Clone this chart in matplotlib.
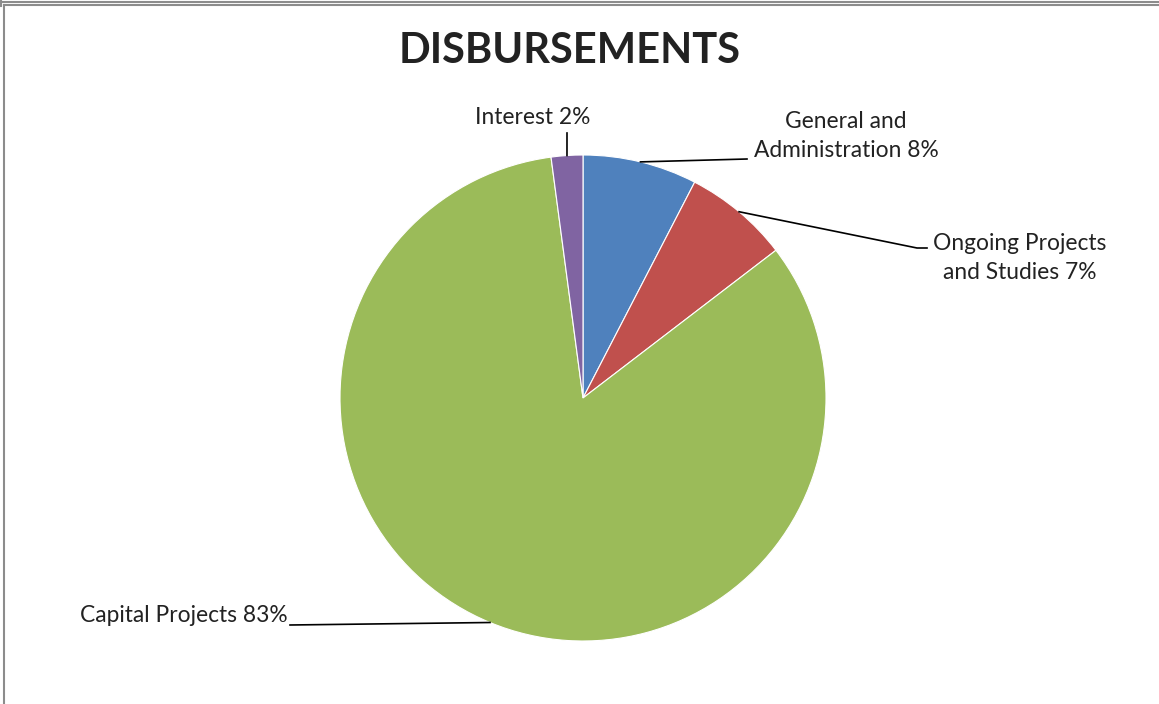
import numpy as np
import matplotlib.pyplot as plt
from matplotlib.lines import Line2D

labels = ['General and\nAdministration', 'Ongoing Projects\nand Studies', 'Capital Projects', 'Interest']
values = [7.6, 7.0, 83.3, 2.1]
colors = ['#4F81BD', '#C0504D', '#9BBB59', '#8064A2']

# label anchor (px) and leader end (px) for each slice
text_pos = [(846, 136), (1020, 258), (288, 616), (533, 118)]
text_ha = ['center', 'center', 'right', 'center']
leader_end = [[(747, 159)], [(917, 248), (927, 248)], [(290, 625)], [(567, 133)]]

W, H = 1159, 704
CX, CY, R = 583, 398, 243
FONT = 'Lato'


def px(x, y):
    return (x - CX) / R, (CY - y) / R


fig = plt.figure(figsize=(W / 100, H / 100), dpi=100)
ax = fig.add_axes([0, 0, 1, 1])
wedges, _ = ax.pie(values, colors=colors, startangle=90, counterclock=False,
                   wedgeprops=dict(edgecolor='white', linewidth=0.8))
ax.set_aspect('auto')
ax.set_xlim(-CX / R, (W - CX) / R)
ax.set_ylim((CY - H) / R, CY / R)
ax.axis('off')

for w, lab, v, tp, ha, ends in zip(wedges, labels, values, text_pos, text_ha, leader_end):
    mid = np.deg2rad((w.theta1 + w.theta2) / 2)
    pts = [(np.cos(mid), np.sin(mid))] + [px(*e) for e in ends]
    xs, ys = zip(*pts)
    ax.plot(xs, ys, color='black', lw=1.2)
    tx, ty = px(*tp)
    ax.text(tx, ty, f'{lab} {round(v)}%', ha=ha, va='center', fontsize=16.4,
            family=FONT, color='#222222', linespacing=1.45)

fig.text(570 / W, 1 - 51 / H, 'DISBURSEMENTS', ha='center', va='center',
         fontsize=30, fontweight='bold', family=FONT, color='#222222')

# frame around the chart
gray = '#8c8c8c'
fig.add_artist(Line2D([0, 1], [1 - 1.5 / H, 1 - 1.5 / H], color=gray, lw=1.5))
fig.add_artist(Line2D([0.5 / W, 0.5 / W], [1, 1 - 6 / H], color=gray, lw=1.5))
fig.add_artist(Line2D([4 / W, 1], [1 - 5 / H, 1 - 5 / H], color=gray, lw=1.5))
fig.add_artist(Line2D([4 / W, 4 / W], [1 - 5 / H, 0], color=gray, lw=1.5))

fig.savefig('out.png', dpi=100)
